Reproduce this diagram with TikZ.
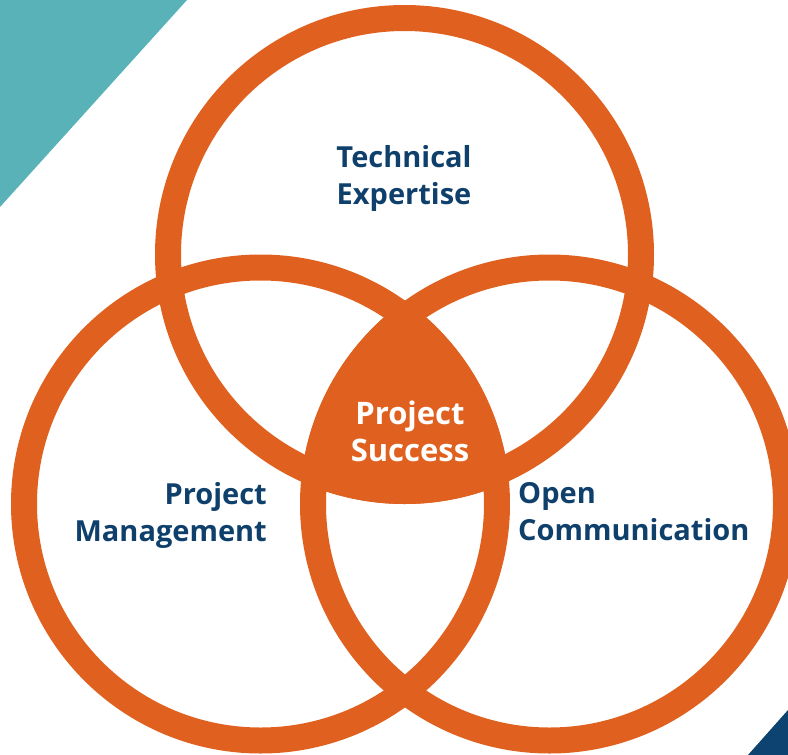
\documentclass[tikz,border=0pt]{standalone}
\usepackage{fontspec}
\setmainfont{Open Sans}
\usepackage{xcolor}
\definecolor{ringorange}{HTML}{E0611F}
\definecolor{navytext}{HTML}{0F406C}
\definecolor{tealcorner}{HTML}{58B2B7}
\definecolor{navycorner}{HTML}{0D4370}
\usetikzlibrary{positioning}

\begin{document}
\begin{tikzpicture}[x=1pt, y=-1pt,
    ring/.style={circle, draw=ringorange, line width=26pt, minimum size=473pt, inner sep=0pt},
    lbl/.style={font=\bfseries\fontsize{29}{37}\selectfont, text=navytext, inner sep=0pt}]
    \useasboundingbox (0, 0) rectangle (788, 755);
    \fill[tealcorner] (0, 0) -- (187, 0) -- (0, 207) -- cycle;
    \fill[navycorner] (788, 710) -- (788, 755) -- (748, 755) -- cycle;

    \begin{scope}
        \clip (404.5, 254.5) circle (249.5pt);
        \clip (260.5, 504) circle (249.5pt);
        \fill[ringorange] (549.5, 504) circle (249.5pt);
    \end{scope}

    \node[ring] (tech) at (404.5, 254.5) {};
    \node[ring] (mgmt) at (260.5, 504) {};
    \node[ring] (comm) at (549.5, 504) {};

    \node[lbl, align=center] (techlbl) at (404, 178) {Technical\\Expertise};
    \node[lbl, align=center, text=white, font=\bfseries\fontsize{31}{37}\selectfont] (success) at (410, 431) {Project\\Success};
    \node[lbl, align=right, anchor=east] (mgmtlbl) at (267, 515) {Project\\Management};
    \node[lbl, align=left, anchor=west] (commlbl) at (518, 512) {Open\\Communication};
\end{tikzpicture}
\end{document}
